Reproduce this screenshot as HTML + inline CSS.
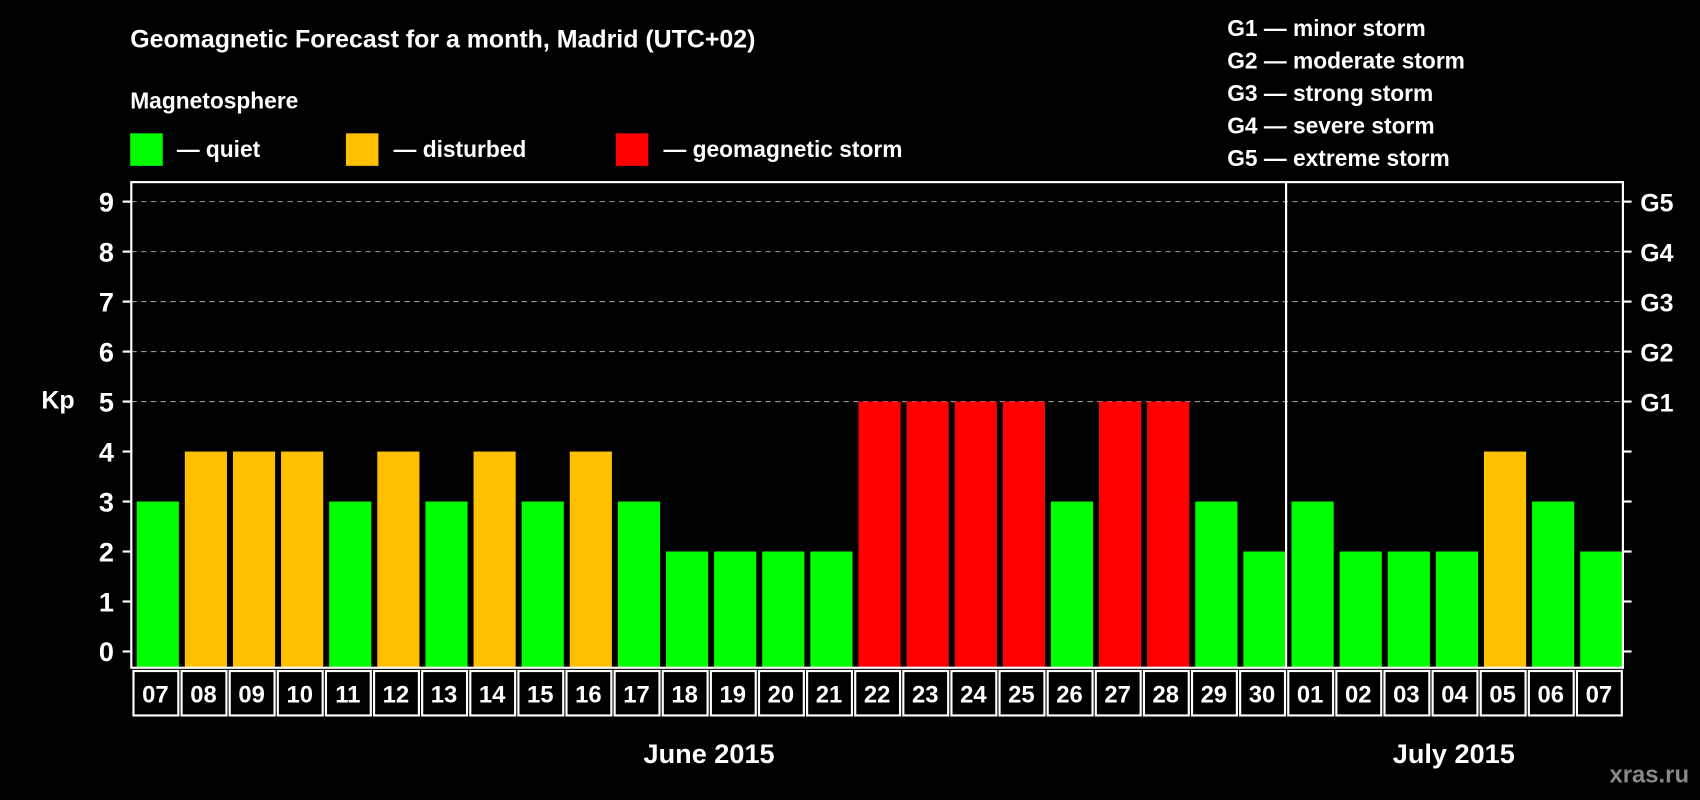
<!DOCTYPE html>
<html><head><meta charset="utf-8"><style>
html,body{margin:0;padding:0;background:#000;}
svg{display:block;font-family:"Liberation Sans",Arial,sans-serif;font-weight:bold;}
</style></head><body>
<svg id="chart" width="1700" height="800" viewBox="0 0 1568 738" xmlns="http://www.w3.org/2000/svg">
<rect width="1568" height="738" fill="#000"/>
<text x="120" y="44" fill="#fff" font-size="23">Geomagnetic Forecast for a month, Madrid (UTC+02)</text>
<text x="120" y="100" fill="#fff" font-size="21">Magnetosphere</text>
<g><rect x="120" y="123" width="30" height="30" fill="#00ff00"/><text x="163" y="145" fill="#fff" font-size="21">— quiet</text></g>
<g><rect x="319" y="123" width="30" height="30" fill="#ffc000"/><text x="363" y="145" fill="#fff" font-size="21">— disturbed</text></g>
<g><rect x="568" y="123" width="30" height="30" fill="#ff0000"/><text x="612" y="145" fill="#fff" font-size="21">— geomagnetic storm</text></g>
<g fill="#fff" font-size="21">
<text x="1132" y="33">G1 — minor storm</text>
<text x="1132" y="63">G2 — moderate storm</text>
<text x="1132" y="93">G3 — strong storm</text>
<text x="1132" y="123">G4 — severe storm</text>
<text x="1132" y="153">G5 — extreme storm</text>
</g>
<text x="38" y="377" fill="#fff" font-size="23">Kp</text>
<g id="grid"></g>
<g id="bars"></g>
<rect x="121" y="168" width="1376" height="448" fill="none" stroke="#fff" stroke-width="2"/>
<g id="axes"></g>
<text x="654" y="704" fill="#fff" font-size="25" text-anchor="middle">June 2015</text>
<text x="1341" y="704" fill="#fff" font-size="25" text-anchor="middle">July 2015</text>
<text x="1558" y="722" fill="#888" font-size="22" text-anchor="end">xras.ru</text>
</svg>
<script>
const days = ["07","08","09","10","11","12","13","14","15","16","17","18","19","20","21","22","23","24","25","26","27","28","29","30","01","02","03","04","05","06","07"];
const kpValues = [3,4,4,4,3,4,3,4,3,4,3,2,2,2,2,5,5,5,5,3,5,5,3,2,3,2,2,2,4,3,2];
const yTicks = [0,1,2,3,4,5,6,7,8,9];
const gLabels = ["","","","","","G1","G2","G3","G4","G5"];
const NS="http://www.w3.org/2000/svg";
const L=121,R=1497,T=168,B=616;
const slot=(R-L)/days.length;
function y(v){return 601-v*(601-186)/9;}
function x(i){return L+i*slot;}
function color(v){return v>=5?"#ff0000":v>=4?"#ffc000":"#00ff00";}
function mk(tag,attrs,parent){const e=document.createElementNS(NS,tag);for(const k in attrs)e.setAttribute(k,attrs[k]);parent.appendChild(e);return e;}
const grid=document.getElementById('grid'),bars=document.getElementById('bars'),axes=document.getElementById('axes');
yTicks.forEach((t,i)=>{
  if(t>=5){const g=mk('line',{x1:L,x2:R,y1:y(t),y2:y(t),stroke:'#999','stroke-dasharray':'5,4','stroke-width':1},grid);
  
  }
  mk('line',{x1:L-8,x2:L,y1:y(t),y2:y(t),stroke:'#fff','stroke-width':2},axes);
  mk('line',{x1:R,x2:R+8,y1:y(t),y2:y(t),stroke:'#fff','stroke-width':2},axes);
  const tl=mk('text',{x:105,y:y(t)+9,fill:'#fff','font-size':25,'text-anchor':'end'},axes);
  tl.textContent=t;
  
  
  if(gLabels[i]){const gl=mk('text',{x:1513,y:y(t)+9,fill:'#fff','font-size':23},axes);
  gl.textContent=gLabels[i];
  
  }
});
kpValues.forEach((v,i)=>{
  const b=mk('rect',{x:x(i)+5,y:y(v),width:slot-5.5,height:B-y(v),fill:color(v)},bars);
  
  
  const box=mk('rect',{x:x(i)+2,y:619,width:slot-3,height:41,fill:'#000',stroke:'#fff','stroke-width':2},axes);
  
  
  const dl=mk('text',{x:x(i)+slot/2,y:648,fill:'#fff','font-size':22,'text-anchor':'middle'},axes);
  dl.textContent=days[i];
  
  
});
const div=mk('line',{x1:x(24),x2:x(24),y1:T,y2:B,stroke:'#fff','stroke-width':2},axes);


</script>
</body></html>
